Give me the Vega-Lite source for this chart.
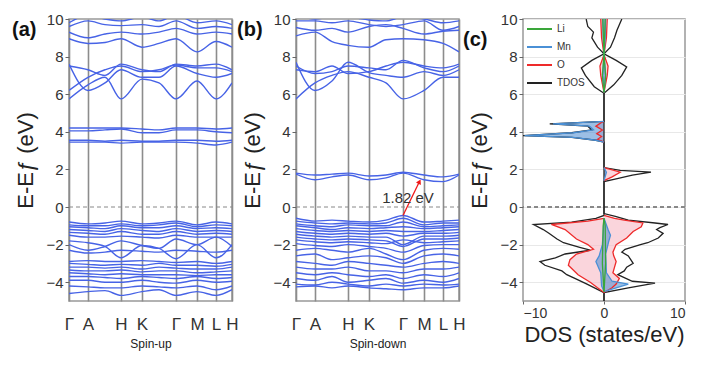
{
"$schema":"https://vega.github.io/schema/vega-lite/v6.json",
"background":"white",
"padding":{"left":11,"top":11,"right":5,"bottom":5},
"config":{"font":"Liberation Sans","view":{"stroke":"#999","strokeWidth":1.5},
 "axis":{"labelColor":"#333","titleColor":"#222","domain":false,"titleFontWeight":"normal","tickColor":"#666"}},
"resolve":{"legend":{"color":"independent"}},
"datasets":{
"up":[
{"b":1,"k":0,"e":-0.8},{"b":1,"k":19,"e":-0.9},{"b":1,"k":36,"e":-0.85},{"b":1,"k":52,"e":-0.75},{"b":1,"k":73,"e":-0.9},{"b":1,"k":90,"e":-0.85},{"b":1,"k":107,"e":-0.75},{"b":1,"k":128,"e":-0.95},{"b":1,"k":147,"e":-0.8},{"b":1,"k":163,"e":-0.9},
{"b":2,"k":0,"e":-0.95},{"b":2,"k":19,"e":-1.0},{"b":2,"k":36,"e":-1.0},{"b":2,"k":52,"e":-0.9},{"b":2,"k":73,"e":-1.0},{"b":2,"k":90,"e":-0.95},{"b":2,"k":107,"e":-0.85},{"b":2,"k":128,"e":-1.05},{"b":2,"k":147,"e":-0.95},{"b":2,"k":163,"e":-1.0},
{"b":3,"k":0,"e":-1.05},{"b":3,"k":19,"e":-1.1},{"b":3,"k":36,"e":-1.15},{"b":3,"k":52,"e":-1.0},{"b":3,"k":73,"e":-1.1},{"b":3,"k":90,"e":-1.1},{"b":3,"k":107,"e":-1.0},{"b":3,"k":128,"e":-1.15},{"b":3,"k":147,"e":-1.1},{"b":3,"k":163,"e":-1.15},
{"b":4,"k":0,"e":-1.2},{"b":4,"k":19,"e":-1.25},{"b":4,"k":36,"e":-1.3},{"b":4,"k":52,"e":-1.15},{"b":4,"k":73,"e":-1.25},{"b":4,"k":90,"e":-1.3},{"b":4,"k":107,"e":-1.15},{"b":4,"k":128,"e":-1.3},{"b":4,"k":147,"e":-1.25},{"b":4,"k":163,"e":-1.3},
{"b":5,"k":0,"e":-1.35},{"b":5,"k":19,"e":-1.4},{"b":5,"k":36,"e":-1.45},{"b":5,"k":52,"e":-1.3},{"b":5,"k":73,"e":-1.45},{"b":5,"k":90,"e":-1.45},{"b":5,"k":107,"e":-1.3},{"b":5,"k":128,"e":-1.45},{"b":5,"k":147,"e":-1.4},{"b":5,"k":163,"e":-1.45},
{"b":6,"k":0,"e":-1.5},{"b":6,"k":19,"e":-1.6},{"b":6,"k":36,"e":-1.6},{"b":6,"k":52,"e":-1.55},{"b":6,"k":73,"e":-1.6},{"b":6,"k":90,"e":-1.65},{"b":6,"k":107,"e":-1.5},{"b":6,"k":128,"e":-1.6},{"b":6,"k":147,"e":-1.6},{"b":6,"k":163,"e":-1.6},
{"b":7,"k":0,"e":-1.8},{"b":7,"k":19,"e":-1.9},{"b":7,"k":36,"e":-2.1},{"b":7,"k":52,"e":-2.7},{"b":7,"k":73,"e":-2.05},{"b":7,"k":90,"e":-2.2},{"b":7,"k":107,"e":-2.75},{"b":7,"k":128,"e":-2.0},{"b":7,"k":147,"e":-2.7},{"b":7,"k":163,"e":-2.0},
{"b":8,"k":0,"e":-2.0},{"b":8,"k":19,"e":-2.3},{"b":8,"k":36,"e":-2.1},{"b":8,"k":52,"e":-1.8},{"b":8,"k":73,"e":-2.05},{"b":8,"k":90,"e":-2.2},{"b":8,"k":107,"e":-1.7},{"b":8,"k":128,"e":-2.0},{"b":8,"k":147,"e":-1.6},{"b":8,"k":163,"e":-2.1},
{"b":9,"k":0,"e":-2.3},{"b":9,"k":19,"e":-2.45},{"b":9,"k":36,"e":-2.4},{"b":9,"k":52,"e":-2.3},{"b":9,"k":73,"e":-2.35},{"b":9,"k":90,"e":-2.4},{"b":9,"k":107,"e":-2.3},{"b":9,"k":128,"e":-2.35},{"b":9,"k":147,"e":-2.4},{"b":9,"k":163,"e":-2.3},
{"b":10,"k":0,"e":-2.9},{"b":10,"k":19,"e":-2.85},{"b":10,"k":36,"e":-2.9},{"b":10,"k":52,"e":-2.9},{"b":10,"k":73,"e":-2.85},{"b":10,"k":90,"e":-2.9},{"b":10,"k":107,"e":-2.95},{"b":10,"k":128,"e":-2.9},{"b":10,"k":147,"e":-3.0},{"b":10,"k":163,"e":-2.9},
{"b":11,"k":0,"e":-3.0},{"b":11,"k":19,"e":-3.05},{"b":11,"k":36,"e":-3.1},{"b":11,"k":52,"e":-3.05},{"b":11,"k":73,"e":-3.1},{"b":11,"k":90,"e":-3.0},{"b":11,"k":107,"e":-3.1},{"b":11,"k":128,"e":-3.1},{"b":11,"k":147,"e":-3.15},{"b":11,"k":163,"e":-3.05},
{"b":12,"k":0,"e":-3.2},{"b":12,"k":19,"e":-3.2},{"b":12,"k":36,"e":-3.25},{"b":12,"k":52,"e":-3.2},{"b":12,"k":73,"e":-3.3},{"b":12,"k":90,"e":-3.2},{"b":12,"k":107,"e":-3.25},{"b":12,"k":128,"e":-3.3},{"b":12,"k":147,"e":-3.3},{"b":12,"k":163,"e":-3.2},
{"b":13,"k":0,"e":-3.35},{"b":13,"k":19,"e":-3.4},{"b":13,"k":36,"e":-3.4},{"b":13,"k":52,"e":-3.35},{"b":13,"k":73,"e":-3.45},{"b":13,"k":90,"e":-3.4},{"b":13,"k":107,"e":-3.4},{"b":13,"k":128,"e":-3.5},{"b":13,"k":147,"e":-3.45},{"b":13,"k":163,"e":-3.4},
{"b":14,"k":0,"e":-3.5},{"b":14,"k":19,"e":-3.55},{"b":14,"k":36,"e":-3.6},{"b":14,"k":52,"e":-3.55},{"b":14,"k":73,"e":-3.6},{"b":14,"k":90,"e":-3.6},{"b":14,"k":107,"e":-3.6},{"b":14,"k":128,"e":-3.65},{"b":14,"k":147,"e":-3.6},{"b":14,"k":163,"e":-3.6},
{"b":15,"k":0,"e":-3.7},{"b":15,"k":19,"e":-3.7},{"b":15,"k":36,"e":-3.75},{"b":15,"k":52,"e":-3.8},{"b":15,"k":73,"e":-3.7},{"b":15,"k":90,"e":-3.75},{"b":15,"k":107,"e":-3.8},{"b":15,"k":128,"e":-3.7},{"b":15,"k":147,"e":-3.8},{"b":15,"k":163,"e":-3.75},
{"b":16,"k":0,"e":-3.9},{"b":16,"k":19,"e":-3.9},{"b":16,"k":36,"e":-4.0},{"b":16,"k":52,"e":-4.0},{"b":16,"k":73,"e":-3.9},{"b":16,"k":90,"e":-4.0},{"b":16,"k":107,"e":-4.05},{"b":16,"k":128,"e":-3.9},{"b":16,"k":147,"e":-4.0},{"b":16,"k":163,"e":-3.95},
{"b":17,"k":0,"e":-4.2},{"b":17,"k":19,"e":-4.25},{"b":17,"k":36,"e":-4.3},{"b":17,"k":52,"e":-4.3},{"b":17,"k":73,"e":-4.2},{"b":17,"k":90,"e":-4.25},{"b":17,"k":107,"e":-4.3},{"b":17,"k":128,"e":-4.2},{"b":17,"k":147,"e":-4.4},{"b":17,"k":163,"e":-4.2},
{"b":18,"k":0,"e":-4.6},{"b":18,"k":19,"e":-4.5},{"b":18,"k":36,"e":-4.45},{"b":18,"k":52,"e":-4.7},{"b":18,"k":73,"e":-4.5},{"b":18,"k":90,"e":-4.4},{"b":18,"k":107,"e":-4.7},{"b":18,"k":128,"e":-4.5},{"b":18,"k":147,"e":-4.7},{"b":18,"k":163,"e":-4.4},
{"b":19,"k":0,"e":3.45},{"b":19,"k":19,"e":3.45},{"b":19,"k":36,"e":3.45},{"b":19,"k":52,"e":3.4},{"b":19,"k":73,"e":3.45},{"b":19,"k":90,"e":3.45},{"b":19,"k":107,"e":3.45},{"b":19,"k":128,"e":3.4},{"b":19,"k":147,"e":3.3},{"b":19,"k":163,"e":3.45},
{"b":20,"k":0,"e":3.55},{"b":20,"k":19,"e":3.55},{"b":20,"k":36,"e":3.5},{"b":20,"k":52,"e":3.55},{"b":20,"k":73,"e":3.5},{"b":20,"k":90,"e":3.5},{"b":20,"k":107,"e":3.55},{"b":20,"k":128,"e":3.55},{"b":20,"k":147,"e":3.5},{"b":20,"k":163,"e":3.55},
{"b":21,"k":0,"e":4.05},{"b":21,"k":19,"e":4.05},{"b":21,"k":36,"e":4.1},{"b":21,"k":52,"e":4.15},{"b":21,"k":73,"e":3.95},{"b":21,"k":90,"e":3.95},{"b":21,"k":107,"e":4.1},{"b":21,"k":128,"e":4.1},{"b":21,"k":147,"e":4.0},{"b":21,"k":163,"e":3.95},
{"b":22,"k":0,"e":4.2},{"b":22,"k":19,"e":4.2},{"b":22,"k":36,"e":4.2},{"b":22,"k":52,"e":4.2},{"b":22,"k":73,"e":4.15},{"b":22,"k":90,"e":4.1},{"b":22,"k":107,"e":4.2},{"b":22,"k":128,"e":4.2},{"b":22,"k":147,"e":4.15},{"b":22,"k":163,"e":4.2},
{"b":23,"k":0,"e":5.75},{"b":23,"k":19,"e":6.5},{"b":23,"k":36,"e":6.9},{"b":23,"k":52,"e":5.75},{"b":23,"k":73,"e":6.8},{"b":23,"k":90,"e":6.6},{"b":23,"k":107,"e":5.75},{"b":23,"k":128,"e":6.7},{"b":23,"k":147,"e":5.75},{"b":23,"k":163,"e":6.6},
{"b":24,"k":0,"e":7.6},{"b":24,"k":19,"e":6.2},{"b":24,"k":36,"e":6.6},{"b":24,"k":52,"e":7.3},{"b":24,"k":73,"e":6.9},{"b":24,"k":90,"e":6.9},{"b":24,"k":107,"e":7.5},{"b":24,"k":128,"e":7.1},{"b":24,"k":147,"e":6.9},{"b":24,"k":163,"e":7.1},
{"b":25,"k":0,"e":7.5},{"b":25,"k":19,"e":7.3},{"b":25,"k":36,"e":7.0},{"b":25,"k":52,"e":7.6},{"b":25,"k":73,"e":7.3},{"b":25,"k":90,"e":7.2},{"b":25,"k":107,"e":7.6},{"b":25,"k":128,"e":7.5},{"b":25,"k":147,"e":7.6},{"b":25,"k":163,"e":7.3},
{"b":26,"k":0,"e":6.2},{"b":26,"k":19,"e":6.9},{"b":26,"k":36,"e":7.3},{"b":26,"k":52,"e":7.5},{"b":26,"k":73,"e":7.2},{"b":26,"k":90,"e":7.3},{"b":26,"k":107,"e":7.55},{"b":26,"k":128,"e":7.4},{"b":26,"k":147,"e":7.4},{"b":26,"k":163,"e":7.2},
{"b":27,"k":0,"e":8.95},{"b":27,"k":19,"e":8.7},{"b":27,"k":36,"e":8.75},{"b":27,"k":52,"e":8.95},{"b":27,"k":73,"e":8.5},{"b":27,"k":90,"e":8.7},{"b":27,"k":107,"e":8.95},{"b":27,"k":128,"e":8.25},{"b":27,"k":147,"e":8.8},{"b":27,"k":163,"e":8.5},
{"b":28,"k":0,"e":9.3},{"b":28,"k":19,"e":9.0},{"b":28,"k":36,"e":9.2},{"b":28,"k":52,"e":9.3},{"b":28,"k":73,"e":9.2},{"b":28,"k":90,"e":9.3},{"b":28,"k":107,"e":9.5},{"b":28,"k":128,"e":9.2},{"b":28,"k":147,"e":9.3},{"b":28,"k":163,"e":9.2},
{"b":29,"k":0,"e":9.6},{"b":29,"k":19,"e":9.9},{"b":29,"k":36,"e":9.7},{"b":29,"k":52,"e":9.65},{"b":29,"k":73,"e":9.7},{"b":29,"k":90,"e":9.6},{"b":29,"k":107,"e":9.9},{"b":29,"k":128,"e":9.5},{"b":29,"k":147,"e":9.6},{"b":29,"k":163,"e":9.5},
{"b":30,"k":0,"e":9.8},{"b":30,"k":19,"e":10.2},{"b":30,"k":36,"e":10.0},{"b":30,"k":52,"e":9.9},{"b":30,"k":73,"e":10.1},{"b":30,"k":90,"e":9.9},{"b":30,"k":107,"e":10.2},{"b":30,"k":128,"e":9.8},{"b":30,"k":147,"e":9.9},{"b":30,"k":163,"e":9.7}
],
"dn":[
{"b":1,"k":0,"e":-0.6},{"b":1,"k":19,"e":-0.75},{"b":1,"k":36,"e":-0.7},{"b":1,"k":52,"e":-0.75},{"b":1,"k":73,"e":-0.8},{"b":1,"k":90,"e":-0.7},{"b":1,"k":107,"e":-0.45},{"b":1,"k":128,"e":-0.8},{"b":1,"k":147,"e":-0.75},{"b":1,"k":163,"e":-0.7},
{"b":2,"k":0,"e":-0.75},{"b":2,"k":19,"e":-0.85},{"b":2,"k":36,"e":-0.9},{"b":2,"k":52,"e":-0.85},{"b":2,"k":73,"e":-0.9},{"b":2,"k":90,"e":-0.85},{"b":2,"k":107,"e":-0.6},{"b":2,"k":128,"e":-0.95},{"b":2,"k":147,"e":-0.85},{"b":2,"k":163,"e":-0.85},
{"b":3,"k":0,"e":-0.9},{"b":3,"k":19,"e":-1.0},{"b":3,"k":36,"e":-1.05},{"b":3,"k":52,"e":-0.95},{"b":3,"k":73,"e":-1.0},{"b":3,"k":90,"e":-1.0},{"b":3,"k":107,"e":-0.8},{"b":3,"k":128,"e":-1.05},{"b":3,"k":147,"e":-1.0},{"b":3,"k":163,"e":-0.95},
{"b":4,"k":0,"e":-1.0},{"b":4,"k":19,"e":-1.1},{"b":4,"k":36,"e":-1.2},{"b":4,"k":52,"e":-1.1},{"b":4,"k":73,"e":-1.15},{"b":4,"k":90,"e":-1.1},{"b":4,"k":107,"e":-1.05},{"b":4,"k":128,"e":-1.15},{"b":4,"k":147,"e":-1.1},{"b":4,"k":163,"e":-1.05},
{"b":5,"k":0,"e":-1.15},{"b":5,"k":19,"e":-1.25},{"b":5,"k":36,"e":-1.3},{"b":5,"k":52,"e":-1.25},{"b":5,"k":73,"e":-1.3},{"b":5,"k":90,"e":-1.25},{"b":5,"k":107,"e":-1.3},{"b":5,"k":128,"e":-1.3},{"b":5,"k":147,"e":-1.25},{"b":5,"k":163,"e":-1.2},
{"b":6,"k":0,"e":-1.3},{"b":6,"k":19,"e":-1.4},{"b":6,"k":36,"e":-1.45},{"b":6,"k":52,"e":-1.4},{"b":6,"k":73,"e":-1.45},{"b":6,"k":90,"e":-1.4},{"b":6,"k":107,"e":-1.55},{"b":6,"k":128,"e":-1.4},{"b":6,"k":147,"e":-1.4},{"b":6,"k":163,"e":-1.35},
{"b":7,"k":0,"e":-1.45},{"b":7,"k":19,"e":-1.55},{"b":7,"k":36,"e":-1.6},{"b":7,"k":52,"e":-1.55},{"b":7,"k":73,"e":-1.6},{"b":7,"k":90,"e":-1.6},{"b":7,"k":107,"e":-2.0},{"b":7,"k":128,"e":-1.55},{"b":7,"k":147,"e":-1.55},{"b":7,"k":163,"e":-1.5},
{"b":8,"k":0,"e":-1.6},{"b":8,"k":19,"e":-1.7},{"b":8,"k":36,"e":-1.75},{"b":8,"k":52,"e":-1.7},{"b":8,"k":73,"e":-1.75},{"b":8,"k":90,"e":-1.8},{"b":8,"k":107,"e":-2.1},{"b":8,"k":128,"e":-1.7},{"b":8,"k":147,"e":-1.7},{"b":8,"k":163,"e":-1.65},
{"b":9,"k":0,"e":-1.75},{"b":9,"k":19,"e":-1.85},{"b":9,"k":36,"e":-1.9},{"b":9,"k":52,"e":-1.85},{"b":9,"k":73,"e":-1.9},{"b":9,"k":90,"e":-1.95},{"b":9,"k":107,"e":-1.75},{"b":9,"k":128,"e":-1.9},{"b":9,"k":147,"e":-1.85},{"b":9,"k":163,"e":-1.8},
{"b":10,"k":0,"e":-1.95},{"b":10,"k":19,"e":-2.05},{"b":10,"k":36,"e":-2.1},{"b":10,"k":52,"e":-2.0},{"b":10,"k":73,"e":-2.1},{"b":10,"k":90,"e":-2.2},{"b":10,"k":107,"e":-2.4},{"b":10,"k":128,"e":-2.05},{"b":10,"k":147,"e":-2.0},{"b":10,"k":163,"e":-2.0},
{"b":11,"k":0,"e":-2.3},{"b":11,"k":19,"e":-2.2},{"b":11,"k":36,"e":-2.3},{"b":11,"k":52,"e":-2.4},{"b":11,"k":73,"e":-2.2},{"b":11,"k":90,"e":-2.5},{"b":11,"k":107,"e":-2.8},{"b":11,"k":128,"e":-2.3},{"b":11,"k":147,"e":-2.2},{"b":11,"k":163,"e":-2.25},
{"b":12,"k":0,"e":-2.6},{"b":12,"k":19,"e":-2.5},{"b":12,"k":36,"e":-2.8},{"b":12,"k":52,"e":-2.7},{"b":12,"k":73,"e":-2.6},{"b":12,"k":90,"e":-2.7},{"b":12,"k":107,"e":-3.0},{"b":12,"k":128,"e":-2.6},{"b":12,"k":147,"e":-2.5},{"b":12,"k":163,"e":-2.6},
{"b":13,"k":0,"e":-2.9},{"b":13,"k":19,"e":-3.0},{"b":13,"k":36,"e":-3.1},{"b":13,"k":52,"e":-2.9},{"b":13,"k":73,"e":-3.0},{"b":13,"k":90,"e":-3.1},{"b":13,"k":107,"e":-3.2},{"b":13,"k":128,"e":-3.0},{"b":13,"k":147,"e":-2.9},{"b":13,"k":163,"e":-3.0},
{"b":14,"k":0,"e":-3.2},{"b":14,"k":19,"e":-3.3},{"b":14,"k":36,"e":-3.3},{"b":14,"k":52,"e":-3.2},{"b":14,"k":73,"e":-3.4},{"b":14,"k":90,"e":-3.4},{"b":14,"k":107,"e":-3.5},{"b":14,"k":128,"e":-3.3},{"b":14,"k":147,"e":-3.3},{"b":14,"k":163,"e":-3.2},
{"b":15,"k":0,"e":-3.5},{"b":15,"k":19,"e":-3.6},{"b":15,"k":36,"e":-3.5},{"b":15,"k":52,"e":-3.6},{"b":15,"k":73,"e":-3.7},{"b":15,"k":90,"e":-3.6},{"b":15,"k":107,"e":-3.8},{"b":15,"k":128,"e":-3.6},{"b":15,"k":147,"e":-3.7},{"b":15,"k":163,"e":-3.5},
{"b":16,"k":0,"e":-3.8},{"b":16,"k":19,"e":-3.9},{"b":16,"k":36,"e":-3.7},{"b":16,"k":52,"e":-4.0},{"b":16,"k":73,"e":-3.9},{"b":16,"k":90,"e":-3.8},{"b":16,"k":107,"e":-4.05},{"b":16,"k":128,"e":-3.9},{"b":16,"k":147,"e":-4.0},{"b":16,"k":163,"e":-3.8},
{"b":17,"k":0,"e":-4.1},{"b":17,"k":19,"e":-4.15},{"b":17,"k":36,"e":-4.0},{"b":17,"k":52,"e":-4.1},{"b":17,"k":73,"e":-4.2},{"b":17,"k":90,"e":-4.1},{"b":17,"k":107,"e":-4.2},{"b":17,"k":128,"e":-4.1},{"b":17,"k":147,"e":-4.15},{"b":17,"k":163,"e":-4.1},
{"b":18,"k":0,"e":-4.25},{"b":18,"k":19,"e":-4.2},{"b":18,"k":36,"e":-4.3},{"b":18,"k":52,"e":-4.2},{"b":18,"k":73,"e":-4.3},{"b":18,"k":90,"e":-4.35},{"b":18,"k":107,"e":-4.4},{"b":18,"k":128,"e":-4.3},{"b":18,"k":147,"e":-4.3},{"b":18,"k":163,"e":-4.2},
{"b":19,"k":0,"e":1.8},{"b":19,"k":19,"e":1.7},{"b":19,"k":36,"e":1.75},{"b":19,"k":52,"e":1.8},{"b":19,"k":73,"e":1.65},{"b":19,"k":90,"e":1.7},{"b":19,"k":107,"e":1.85},{"b":19,"k":128,"e":1.7},{"b":19,"k":147,"e":1.6},{"b":19,"k":163,"e":1.75},
{"b":20,"k":0,"e":1.75},{"b":20,"k":19,"e":1.45},{"b":20,"k":36,"e":1.6},{"b":20,"k":52,"e":1.7},{"b":20,"k":73,"e":1.45},{"b":20,"k":90,"e":1.55},{"b":20,"k":107,"e":1.8},{"b":20,"k":128,"e":1.45},{"b":20,"k":147,"e":1.35},{"b":20,"k":163,"e":1.7},
{"b":21,"k":0,"e":5.75},{"b":21,"k":19,"e":6.6},{"b":21,"k":36,"e":7.0},{"b":21,"k":52,"e":7.2},{"b":21,"k":73,"e":6.9},{"b":21,"k":90,"e":6.6},{"b":21,"k":107,"e":5.75},{"b":21,"k":128,"e":6.2},{"b":21,"k":147,"e":6.9},{"b":21,"k":163,"e":6.9},
{"b":22,"k":0,"e":7.7},{"b":22,"k":19,"e":6.2},{"b":22,"k":36,"e":6.7},{"b":22,"k":52,"e":7.7},{"b":22,"k":73,"e":7.15},{"b":22,"k":90,"e":7.0},{"b":22,"k":107,"e":6.9},{"b":22,"k":128,"e":7.2},{"b":22,"k":147,"e":7.0},{"b":22,"k":163,"e":7.3},
{"b":23,"k":0,"e":7.5},{"b":23,"k":19,"e":7.1},{"b":23,"k":36,"e":7.2},{"b":23,"k":52,"e":7.5},{"b":23,"k":73,"e":7.4},{"b":23,"k":90,"e":7.3},{"b":23,"k":107,"e":7.8},{"b":23,"k":128,"e":7.4},{"b":23,"k":147,"e":7.2},{"b":23,"k":163,"e":7.5},
{"b":24,"k":0,"e":7.3},{"b":24,"k":19,"e":7.2},{"b":24,"k":36,"e":7.5},{"b":24,"k":52,"e":7.1},{"b":24,"k":73,"e":7.2},{"b":24,"k":90,"e":7.5},{"b":24,"k":107,"e":7.7},{"b":24,"k":128,"e":7.5},{"b":24,"k":147,"e":7.4},{"b":24,"k":163,"e":7.6},
{"b":25,"k":0,"e":9.1},{"b":25,"k":19,"e":9.3},{"b":25,"k":36,"e":8.8},{"b":25,"k":52,"e":8.6},{"b":25,"k":73,"e":8.5},{"b":25,"k":90,"e":8.9},{"b":25,"k":107,"e":8.95},{"b":25,"k":128,"e":8.9},{"b":25,"k":147,"e":8.7},{"b":25,"k":163,"e":8.25},
{"b":26,"k":0,"e":9.55},{"b":26,"k":19,"e":9.4},{"b":26,"k":36,"e":9.5},{"b":26,"k":52,"e":9.3},{"b":26,"k":73,"e":9.6},{"b":26,"k":90,"e":9.7},{"b":26,"k":107,"e":9.5},{"b":26,"k":128,"e":9.2},{"b":26,"k":147,"e":9.35},{"b":26,"k":163,"e":9.4},
{"b":27,"k":0,"e":9.9},{"b":27,"k":19,"e":9.9},{"b":27,"k":36,"e":9.8},{"b":27,"k":52,"e":9.9},{"b":27,"k":73,"e":9.7},{"b":27,"k":90,"e":9.6},{"b":27,"k":107,"e":9.7},{"b":27,"k":128,"e":9.9},{"b":27,"k":147,"e":9.4},{"b":27,"k":163,"e":9.6},
{"b":28,"k":0,"e":10.2},{"b":28,"k":19,"e":10.0},{"b":28,"k":36,"e":10.1},{"b":28,"k":52,"e":10.1},{"b":28,"k":73,"e":9.95},{"b":28,"k":90,"e":9.9},{"b":28,"k":107,"e":10.1},{"b":28,"k":128,"e":10.0},{"b":28,"k":147,"e":9.8},{"b":28,"k":163,"e":9.9}
],
"dos":[
{"el":"TDOS","sp":"u","e":-5,"d":0},{"el":"TDOS","sp":"u","e":-4.55,"d":0},{"el":"TDOS","sp":"u","e":-4.45,"d":-0.5},{"el":"TDOS","sp":"u","e":-4.1,"d":-2.1},{"el":"TDOS","sp":"u","e":-3.8,"d":-3.6},{"el":"TDOS","sp":"u","e":-3.6,"d":-4.6},{"el":"TDOS","sp":"u","e":-3.4,"d":-5.2},{"el":"TDOS","sp":"u","e":-3.1,"d":-7.3},{"el":"TDOS","sp":"u","e":-2.9,"d":-7.9},{"el":"TDOS","sp":"u","e":-2.7,"d":-6.0},{"el":"TDOS","sp":"u","e":-2.5,"d":-4.8},{"el":"TDOS","sp":"u","e":-2.3,"d":-1.7},{"el":"TDOS","sp":"u","e":-2.15,"d":-3.0},{"el":"TDOS","sp":"u","e":-1.9,"d":-5.0},{"el":"TDOS","sp":"u","e":-1.7,"d":-5.8},{"el":"TDOS","sp":"u","e":-1.4,"d":-6.8},{"el":"TDOS","sp":"u","e":-1.2,"d":-7.5},{"el":"TDOS","sp":"u","e":-0.93,"d":-8.7},{"el":"TDOS","sp":"u","e":-0.8,"d":-4.0},{"el":"TDOS","sp":"u","e":-0.6,"d":-1.0},{"el":"TDOS","sp":"u","e":-0.45,"d":0},{"el":"TDOS","sp":"u","e":3.45,"d":0},{"el":"TDOS","sp":"u","e":3.55,"d":-1.0},{"el":"TDOS","sp":"u","e":3.7,"d":-4.0},{"el":"TDOS","sp":"u","e":3.8,"d":-10},{"el":"TDOS","sp":"u","e":3.95,"d":-4.0},{"el":"TDOS","sp":"u","e":4.1,"d":-1.5},{"el":"TDOS","sp":"u","e":4.3,"d":-2.0},{"el":"TDOS","sp":"u","e":4.42,"d":-6.7},{"el":"TDOS","sp":"u","e":4.48,"d":-4.0},{"el":"TDOS","sp":"u","e":4.55,"d":0},{"el":"TDOS","sp":"u","e":6.05,"d":0},{"el":"TDOS","sp":"u","e":6.4,"d":-1.2},{"el":"TDOS","sp":"u","e":7.0,"d":-2.3},{"el":"TDOS","sp":"u","e":7.4,"d":-2.8},{"el":"TDOS","sp":"u","e":7.8,"d":-1.5},{"el":"TDOS","sp":"u","e":8.15,"d":0},{"el":"TDOS","sp":"u","e":8.5,"d":-0.8},{"el":"TDOS","sp":"u","e":9.0,"d":-1.5},{"el":"TDOS","sp":"u","e":9.3,"d":-1.3},{"el":"TDOS","sp":"u","e":9.6,"d":-2.0},{"el":"TDOS","sp":"u","e":10,"d":-2.2},
{"el":"TDOS","sp":"d","e":-5,"d":0},{"el":"TDOS","sp":"d","e":-4.55,"d":0},{"el":"TDOS","sp":"d","e":-4.3,"d":3.0},{"el":"TDOS","sp":"d","e":-4.05,"d":6.3},{"el":"TDOS","sp":"d","e":-3.95,"d":3.5},{"el":"TDOS","sp":"d","e":-3.6,"d":1.7},{"el":"TDOS","sp":"d","e":-3.4,"d":2.5},{"el":"TDOS","sp":"d","e":-3.2,"d":2.8},{"el":"TDOS","sp":"d","e":-3.0,"d":3.6},{"el":"TDOS","sp":"d","e":-2.8,"d":3.3},{"el":"TDOS","sp":"d","e":-2.6,"d":3.0},{"el":"TDOS","sp":"d","e":-2.4,"d":2.2},{"el":"TDOS","sp":"d","e":-2.25,"d":2.6},{"el":"TDOS","sp":"d","e":-2.0,"d":4.5},{"el":"TDOS","sp":"d","e":-1.9,"d":5.4},{"el":"TDOS","sp":"d","e":-1.65,"d":6.7},{"el":"TDOS","sp":"d","e":-1.4,"d":7.3},{"el":"TDOS","sp":"d","e":-1.2,"d":6.5},{"el":"TDOS","sp":"d","e":-1.1,"d":6.9},{"el":"TDOS","sp":"d","e":-0.93,"d":7.9},{"el":"TDOS","sp":"d","e":-0.85,"d":6.3},{"el":"TDOS","sp":"d","e":-0.7,"d":3.0},{"el":"TDOS","sp":"d","e":-0.5,"d":1.4},{"el":"TDOS","sp":"d","e":-0.35,"d":0},{"el":"TDOS","sp":"d","e":1.35,"d":0},{"el":"TDOS","sp":"d","e":1.5,"d":1.5},{"el":"TDOS","sp":"d","e":1.7,"d":3.5},{"el":"TDOS","sp":"d","e":1.85,"d":5.8},{"el":"TDOS","sp":"d","e":1.95,"d":2.0},{"el":"TDOS","sp":"d","e":2.1,"d":0},{"el":"TDOS","sp":"d","e":6.05,"d":0},{"el":"TDOS","sp":"d","e":6.5,"d":1.2},{"el":"TDOS","sp":"d","e":7.0,"d":2.2},{"el":"TDOS","sp":"d","e":7.45,"d":2.8},{"el":"TDOS","sp":"d","e":7.8,"d":1.5},{"el":"TDOS","sp":"d","e":8.15,"d":0},{"el":"TDOS","sp":"d","e":8.5,"d":0.8},{"el":"TDOS","sp":"d","e":9.0,"d":1.3},{"el":"TDOS","sp":"d","e":9.4,"d":1.6},{"el":"TDOS","sp":"d","e":10,"d":2.2},
{"el":"O","sp":"u1","e":-4.55,"d":0},{"el":"O","sp":"u1","e":-4.3,"d":-0.8},{"el":"O","sp":"u1","e":-4.0,"d":-1.7},{"el":"O","sp":"u1","e":-3.6,"d":-3.2},{"el":"O","sp":"u1","e":-3.1,"d":-4.4},{"el":"O","sp":"u1","e":-2.8,"d":-4.2},{"el":"O","sp":"u1","e":-2.5,"d":-3.4},{"el":"O","sp":"u1","e":-2.25,"d":-1.3},{"el":"O","sp":"u1","e":-2.0,"d":-2.0},{"el":"O","sp":"u1","e":-1.7,"d":-3.4},{"el":"O","sp":"u1","e":-1.2,"d":-4.8},{"el":"O","sp":"u1","e":-0.93,"d":-6.5},{"el":"O","sp":"u1","e":-0.75,"d":-2.0},{"el":"O","sp":"u1","e":-0.6,"d":0},
{"el":"O","sp":"u2","e":3.45,"d":0},{"el":"O","sp":"u2","e":3.6,"d":-0.8},{"el":"O","sp":"u2","e":3.75,"d":-0.3},{"el":"O","sp":"u2","e":3.9,"d":-0.9},{"el":"O","sp":"u2","e":4.1,"d":-0.2},{"el":"O","sp":"u2","e":4.3,"d":-1.0},{"el":"O","sp":"u2","e":4.5,"d":-0.3},{"el":"O","sp":"u2","e":4.55,"d":0},
{"el":"O","sp":"u3","e":6.1,"d":0},{"el":"O","sp":"u3","e":7.0,"d":-0.4},{"el":"O","sp":"u3","e":7.5,"d":-0.5},{"el":"O","sp":"u3","e":8.1,"d":0},{"el":"O","sp":"u3","e":9.0,"d":-0.3},{"el":"O","sp":"u3","e":10,"d":-0.4},
{"el":"O","sp":"d1","e":-4.55,"d":0},{"el":"O","sp":"d1","e":-4.3,"d":1.0},{"el":"O","sp":"d1","e":-4.1,"d":1.5},{"el":"O","sp":"d1","e":-3.8,"d":1.9},{"el":"O","sp":"d1","e":-3.5,"d":1.1},{"el":"O","sp":"d1","e":-3.2,"d":1.3},{"el":"O","sp":"d1","e":-2.9,"d":1.5},{"el":"O","sp":"d1","e":-2.6,"d":1.2},{"el":"O","sp":"d1","e":-2.4,"d":1.1},{"el":"O","sp":"d1","e":-2.0,"d":1.5},{"el":"O","sp":"d1","e":-1.65,"d":2.8},{"el":"O","sp":"d1","e":-1.3,"d":3.6},{"el":"O","sp":"d1","e":-1.05,"d":4.6},{"el":"O","sp":"d1","e":-0.85,"d":4.8},{"el":"O","sp":"d1","e":-0.7,"d":2.5},{"el":"O","sp":"d1","e":-0.6,"d":1.3},{"el":"O","sp":"d1","e":-0.45,"d":0},
{"el":"O","sp":"d2","e":1.4,"d":0},{"el":"O","sp":"d2","e":1.6,"d":1.0},{"el":"O","sp":"d2","e":1.85,"d":2.0},{"el":"O","sp":"d2","e":2.0,"d":0.8},{"el":"O","sp":"d2","e":2.1,"d":0},
{"el":"O","sp":"d3","e":6.1,"d":0},{"el":"O","sp":"d3","e":7.0,"d":0.4},{"el":"O","sp":"d3","e":7.5,"d":0.5},{"el":"O","sp":"d3","e":8.1,"d":0},{"el":"O","sp":"d3","e":9.0,"d":0.3},{"el":"O","sp":"d3","e":10,"d":0.4},
{"el":"Mn","sp":"u1","e":-4.5,"d":0},{"el":"Mn","sp":"u1","e":-4.2,"d":-0.3},{"el":"Mn","sp":"u1","e":-3.5,"d":-0.4},{"el":"Mn","sp":"u1","e":-2.9,"d":-1.0},{"el":"Mn","sp":"u1","e":-2.6,"d":-0.6},{"el":"Mn","sp":"u1","e":-2.0,"d":-0.2},{"el":"Mn","sp":"u1","e":-1.4,"d":-0.1},{"el":"Mn","sp":"u1","e":-0.6,"d":0},
{"el":"Mn","sp":"u2","e":3.45,"d":0},{"el":"Mn","sp":"u2","e":3.55,"d":-1.0},{"el":"Mn","sp":"u2","e":3.7,"d":-3.8},{"el":"Mn","sp":"u2","e":3.8,"d":-9.8},{"el":"Mn","sp":"u2","e":3.95,"d":-3.8},{"el":"Mn","sp":"u2","e":4.1,"d":-1.3},{"el":"Mn","sp":"u2","e":4.3,"d":-1.8},{"el":"Mn","sp":"u2","e":4.42,"d":-6.3},{"el":"Mn","sp":"u2","e":4.48,"d":-3.8},{"el":"Mn","sp":"u2","e":4.55,"d":0},
{"el":"Mn","sp":"u3","e":6.1,"d":0},{"el":"Mn","sp":"u3","e":7.0,"d":-0.15},{"el":"Mn","sp":"u3","e":8.1,"d":0},{"el":"Mn","sp":"u3","e":9.0,"d":-0.1},{"el":"Mn","sp":"u3","e":10,"d":-0.15},
{"el":"Mn","sp":"d1","e":-4.5,"d":0},{"el":"Mn","sp":"d1","e":-4.3,"d":1.5},{"el":"Mn","sp":"d1","e":-4.1,"d":3.0},{"el":"Mn","sp":"d1","e":-3.95,"d":1.0},{"el":"Mn","sp":"d1","e":-3.5,"d":0.3},{"el":"Mn","sp":"d1","e":-2.5,"d":0.2},{"el":"Mn","sp":"d1","e":-1.8,"d":0.6},{"el":"Mn","sp":"d1","e":-1.5,"d":0.8},{"el":"Mn","sp":"d1","e":-1.2,"d":0.5},{"el":"Mn","sp":"d1","e":-0.6,"d":0},
{"el":"Mn","sp":"d2","e":1.4,"d":0},{"el":"Mn","sp":"d2","e":1.85,"d":0.3},{"el":"Mn","sp":"d2","e":2.1,"d":0},
{"el":"Mn","sp":"d3","e":6.1,"d":0},{"el":"Mn","sp":"d3","e":7.0,"d":0.2},{"el":"Mn","sp":"d3","e":8.1,"d":0},{"el":"Mn","sp":"d3","e":9.0,"d":0.15},{"el":"Mn","sp":"d3","e":10,"d":0.2},
{"el":"Li","sp":"u1","e":-4.5,"d":0},{"el":"Li","sp":"u1","e":-3.0,"d":-0.2},{"el":"Li","sp":"u1","e":-1.0,"d":-0.1},{"el":"Li","sp":"u1","e":-0.6,"d":0},
{"el":"Li","sp":"u3","e":6.1,"d":0},{"el":"Li","sp":"u3","e":7.0,"d":-0.2},{"el":"Li","sp":"u3","e":8.1,"d":0},{"el":"Li","sp":"u3","e":10,"d":-0.15},
{"el":"Li","sp":"d1","e":-4.5,"d":0},{"el":"Li","sp":"d1","e":-3.0,"d":0.2},{"el":"Li","sp":"d1","e":-1.0,"d":0.15},{"el":"Li","sp":"d1","e":-0.6,"d":0},
{"el":"Li","sp":"d3","e":6.1,"d":0},{"el":"Li","sp":"d3","e":7.0,"d":0.2},{"el":"Li","sp":"d3","e":8.1,"d":0},{"el":"Li","sp":"d3","e":10,"d":0.15}
]
},
"spacing":64,
"bounds":"flush",
"hconcat":[
{"width":163,"height":282,
 "title":{"text":"(a)","anchor":"start","frame":"group","fontSize":20,"fontWeight":"bold","color":"#111","dx":-57,"dy":28,"offset":0},
 "encoding":{
  "x":{"field":"k","type":"quantitative","scale":{"domain":[0,163],"nice":false,"zero":false},
   "axis":{"values":[0,19,52,73,107,128,147,163],"labelExpr":"datum.value==0?'Γ':datum.value==19?'A':datum.value==52?'H':datum.value==73?'K':datum.value==107?'Γ':datum.value==128?'M':datum.value==147?'L':'H'","grid":true,"gridColor":"#8c8c8c","gridWidth":1.6,"ticks":false,"labelFontSize":17,"labelPadding":15,"labelFlush":false,"labelOverlap":false,"title":"Spin-up","titleFontSize":12,"titlePadding":6}},
  "y":{"field":"e","type":"quantitative","scale":{"domain":[-5,10],"nice":false},
   "axis":{"values":[-4,-2,0,2,4,6,8,10],"title":"E-Eƒ (eV)","titleFontSize":22,"titlePadding":8,"labelFontSize":15,"tickSize":4,"labelPadding":2,"grid":false}}},
 "layer":[
  {"data":{"name":"up"},"mark":{"type":"line","color":"#4763e6","strokeWidth":1.4,"interpolate":"monotone","clip":true},
   "encoding":{"detail":{"field":"b","type":"nominal"}}},
  {"data":{"values":[{"k":0,"k2":163,"e":0}]},"mark":{"type":"rule","color":"#888","strokeDash":[4,3],"strokeWidth":1},"encoding":{"x2":{"field":"k2"}}}
 ]},
{"width":163,"height":282,
 "title":{"text":"(b)","anchor":"start","frame":"group","fontSize":20,"fontWeight":"bold","color":"#111","dx":-59,"dy":28,"offset":0},
 "encoding":{
  "x":{"field":"k","type":"quantitative","scale":{"domain":[0,163],"nice":false,"zero":false},
   "axis":{"values":[0,19,52,73,107,128,147,163],"labelExpr":"datum.value==0?'Γ':datum.value==19?'A':datum.value==52?'H':datum.value==73?'K':datum.value==107?'Γ':datum.value==128?'M':datum.value==147?'L':'H'","grid":true,"gridColor":"#8c8c8c","gridWidth":1.6,"ticks":false,"labelFontSize":17,"labelPadding":15,"labelFlush":false,"labelOverlap":false,"title":"Spin-down","titleFontSize":12,"titlePadding":6}},
  "y":{"field":"e","type":"quantitative","scale":{"domain":[-5,10],"nice":false},
   "axis":{"values":[-4,-2,0,2,4,6,8,10],"title":"E-Eƒ (eV)","titleFontSize":22,"titlePadding":8,"labelFontSize":15,"tickSize":4,"labelPadding":2,"grid":false}}},
 "layer":[
  {"data":{"name":"dn"},"mark":{"type":"line","color":"#4763e6","strokeWidth":1.4,"interpolate":"monotone","clip":true},
   "encoding":{"detail":{"field":"b","type":"nominal"}}},
  {"data":{"values":[{"k":0,"k2":163,"e":0}]},"mark":{"type":"rule","color":"#888","strokeDash":[4,3],"strokeWidth":1},"encoding":{"x2":{"field":"k2"}}},
  {"data":{"values":[{"k":107,"e":-0.45,"k2":123,"e2":1.3}]},"mark":{"type":"rule","color":"#f01818","strokeWidth":1.3},
   "encoding":{"x2":{"field":"k2"},"y2":{"field":"e2"}}},
  {"data":{"values":[{"k":123.5,"e":1.35}]},"mark":{"type":"point","shape":"triangle-up","filled":true,"color":"#f01818","size":30,"angle":27,"opacity":1},"encoding":{}},
  {"data":{"values":[{"k":112,"e":0.5,"t":"1.82 eV"}]},"mark":{"type":"text","fontSize":15,"color":"#333"},
   "encoding":{"text":{"field":"t"}}}
 ]},
{"width":162,"height":282,
 "title":{"text":"(c)","anchor":"start","frame":"group","fontSize":20,"fontWeight":"bold","color":"#111","dx":-60,"dy":38,"offset":0},
 "data":{"name":"dos"},
 "encoding":{"y":{"field":"e","type":"quantitative","scale":{"domain":[-5,10],"nice":false},
   "axis":{"values":[-4,-2,0,2,4,6,8,10],"title":"E-Eƒ (eV)","titleFontSize":22,"titlePadding":8,"labelFontSize":15,"tickSize":4,"labelPadding":2,"grid":true,"gridColor":"#e8e8e8"}}},
 "layer":[
  {"transform":[{"filter":"datum.el=='O'"}],"mark":{"type":"area","orient":"horizontal","color":"#f7b9c4","opacity":0.6,"clip":true},
   "encoding":{"x":{"field":"d","type":"quantitative","stack":null,"scale":{"domain":[-10,10],"nice":false},
     "axis":{"values":[-10,0,10],"labelFontSize":14,"title":"DOS (states/eV)","titleFontSize":22,"titlePadding":4,"tickSize":3,"grid":false}},
    "detail":{"field":"sp"}}},
  {"transform":[{"filter":"datum.el=='Mn'"}],"mark":{"type":"area","orient":"horizontal","color":"#4a8ad0","opacity":0.55,"clip":true},
   "encoding":{"x":{"field":"d","type":"quantitative","stack":null},"detail":{"field":"sp"}}},
  {"mark":{"type":"rule","color":"#888","strokeDash":[4,3],"strokeWidth":1},"encoding":{"y":{"datum":0}}},
  {"transform":[{"filter":"datum.el=='TDOS'"}],"mark":{"type":"line","strokeWidth":1.3,"clip":true},
   "encoding":{"x":{"field":"d","type":"quantitative"},"order":{"field":"e"},"detail":{"field":"sp"},
    "color":{"field":"el","type":"nominal","scale":{"domain":["Li","Mn","O","TDOS"],"range":["#3aa63a","#4a90d6","#ee2a2a","#222222"]},
     "legend":{"orient":"top-left","title":null,"symbolType":"stroke","symbolStrokeWidth":2,"symbolSize":625,"clipHeight":14,"labelFontSize":10,"labelColor":"#333","rowPadding":4,"offset":3}}}},
  {"transform":[{"filter":"datum.el!='TDOS'"}],"mark":{"type":"line","strokeWidth":1.3,"clip":true},
   "encoding":{"x":{"field":"d","type":"quantitative"},"order":{"field":"e"},"detail":{"field":"sp"},
    "color":{"field":"el","type":"nominal"}}}
 ]}
]
}
